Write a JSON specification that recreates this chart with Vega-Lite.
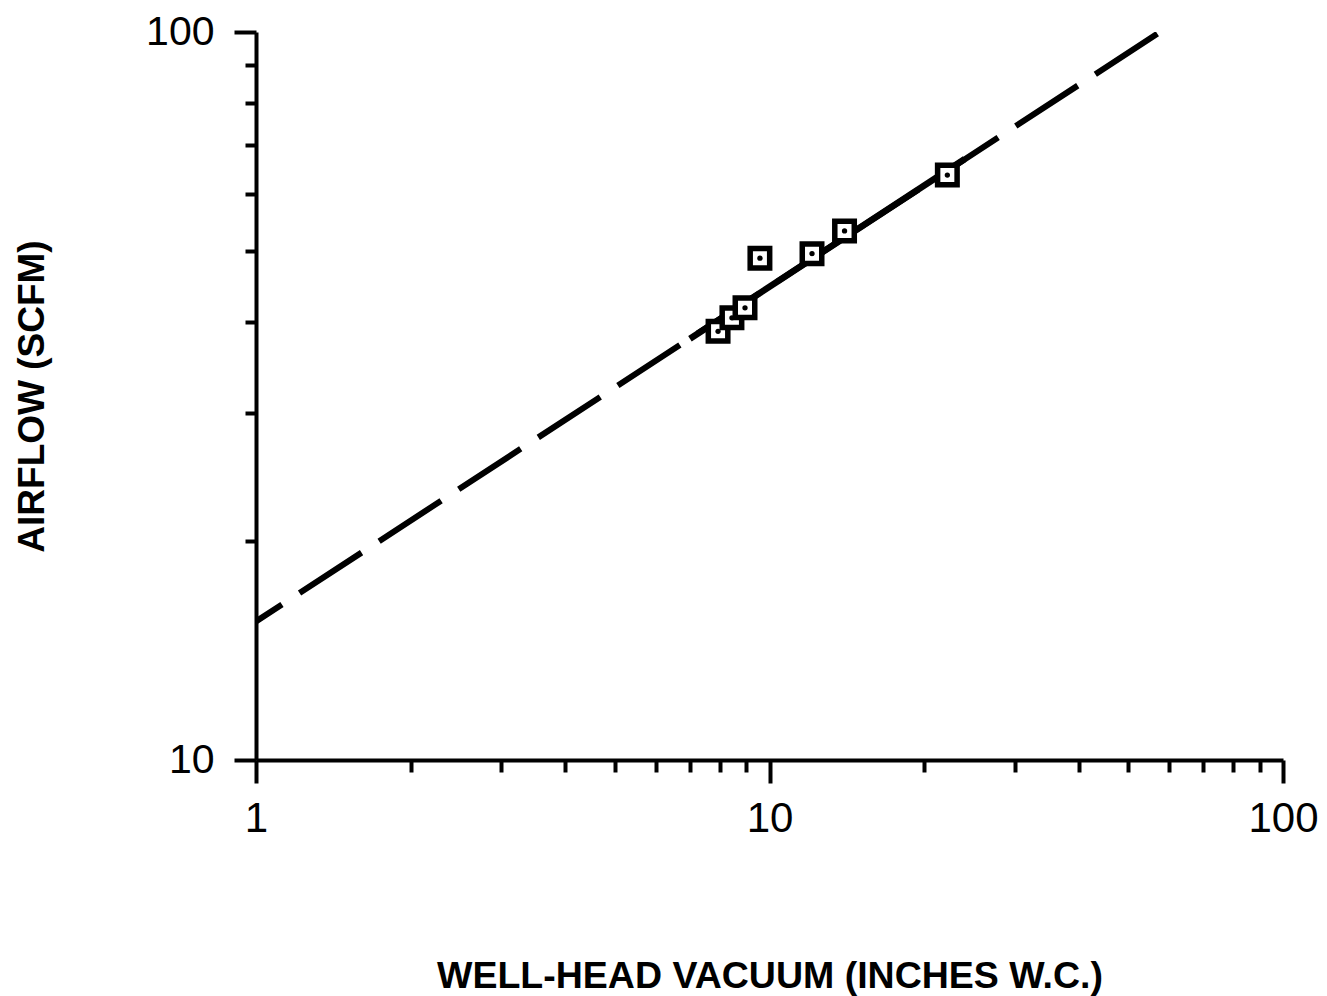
{
  "$schema": "https://vega.github.io/schema/vega-lite/v6.json",
  "width": 1027,
  "height": 728,
  "autosize": {"type": "none"},
  "padding": {"left": 256, "top": 32, "right": 44, "bottom": 236},
  "background": "white",
  "config": {
    "view": {"stroke": null},
    "axis": {
      "grid": false,
      "domainColor": "black",
      "domainWidth": 4,
      "tickColor": "black",
      "tickWidth": 4,
      "labelColor": "black",
      "labelFont": "Liberation Sans",
      "titleFont": "Liberation Sans",
      "titleFontWeight": "bold",
      "titleColor": "black"
    }
  },
  "datasets": {
    "pts": [
      {"vacuum": 7.94, "airflow": 38.8},
      {"vacuum": 8.45, "airflow": 40.5},
      {"vacuum": 8.96, "airflow": 41.8},
      {"vacuum": 9.58, "airflow": 48.9},
      {"vacuum": 12.1, "airflow": 49.6},
      {"vacuum": 14.0, "airflow": 53.3},
      {"vacuum": 22.2, "airflow": 63.6}
    ],
    "dashfit": [
      {"vacuum": 1, "airflow": 15.5},
      {"vacuum": 57.6, "airflow": 100}
    ],
    "solidfit": [
      {"vacuum": 7.0, "airflow": 37.9},
      {"vacuum": 24.0, "airflow": 66.9}
    ]
  },
  "encoding": {
    "x": {
      "field": "vacuum",
      "type": "quantitative",
      "scale": {"type": "log", "domain": [1, 100], "nice": false},
      "axis": {
        "title": "WELL-HEAD VACUUM (INCHES W.C.)",
        "values": [1, 2, 3, 4, 5, 6, 7, 8, 9, 10, 20, 30, 40, 50, 60, 70, 80, 90, 100],
        "labelExpr": "datum.value == 1 || datum.value == 10 || datum.value == 100 ? '' + datum.value : ''",
        "tickSize": {"condition": {"test": "datum.value == 1 || datum.value == 10 || datum.value == 100", "value": 23}, "value": 12},
        "labelFontSize": 42,
        "labelPadding": 15,
        "labelFlush": false,
        "labelOverlap": false,
        "titleFontSize": 37.5,
        "titleY": 216,
        "titleBaseline": "middle"
      }
    },
    "y": {
      "field": "airflow",
      "type": "quantitative",
      "scale": {"type": "log", "domain": [10, 100], "nice": false},
      "axis": {
        "title": "AIRFLOW (SCFM)",
        "values": [10, 20, 30, 40, 50, 60, 70, 80, 90, 100],
        "labelExpr": "datum.value == 10 || datum.value == 100 ? '' + datum.value : ''",
        "tickSize": {"condition": {"test": "datum.value == 10 || datum.value == 100", "value": 22}, "value": 11},
        "labelFontSize": 41,
        "labelPadding": 20,
        "labelFlush": false,
        "labelOverlap": false,
        "titleFontSize": 37,
        "titleX": -224,
        "titleY": 364,
        "titleAngle": -90,
        "titleAlign": "center",
        "titleBaseline": "middle"
      }
    }
  },
  "layer": [
    {
      "data": {"name": "dashfit"},
      "mark": {"type": "line", "color": "black", "strokeWidth": 6, "strokeDash": [74, 21], "strokeDashOffset": 43, "clip": true},
      "encoding": {}
    },
    {
      "data": {"name": "solidfit"},
      "mark": {"type": "line", "color": "black", "strokeWidth": 6.5},
      "encoding": {}
    },
    {
      "data": {"name": "pts"},
      "mark": {"type": "point", "shape": "square", "size": 380, "filled": false, "fill": "white", "fillOpacity": 1, "stroke": "black", "strokeWidth": 5.5, "opacity": 1},
      "encoding": {}
    },
    {
      "data": {"name": "pts"},
      "mark": {"type": "point", "shape": "circle", "size": 28, "filled": true, "color": "black", "opacity": 1},
      "encoding": {}
    }
  ]
}
